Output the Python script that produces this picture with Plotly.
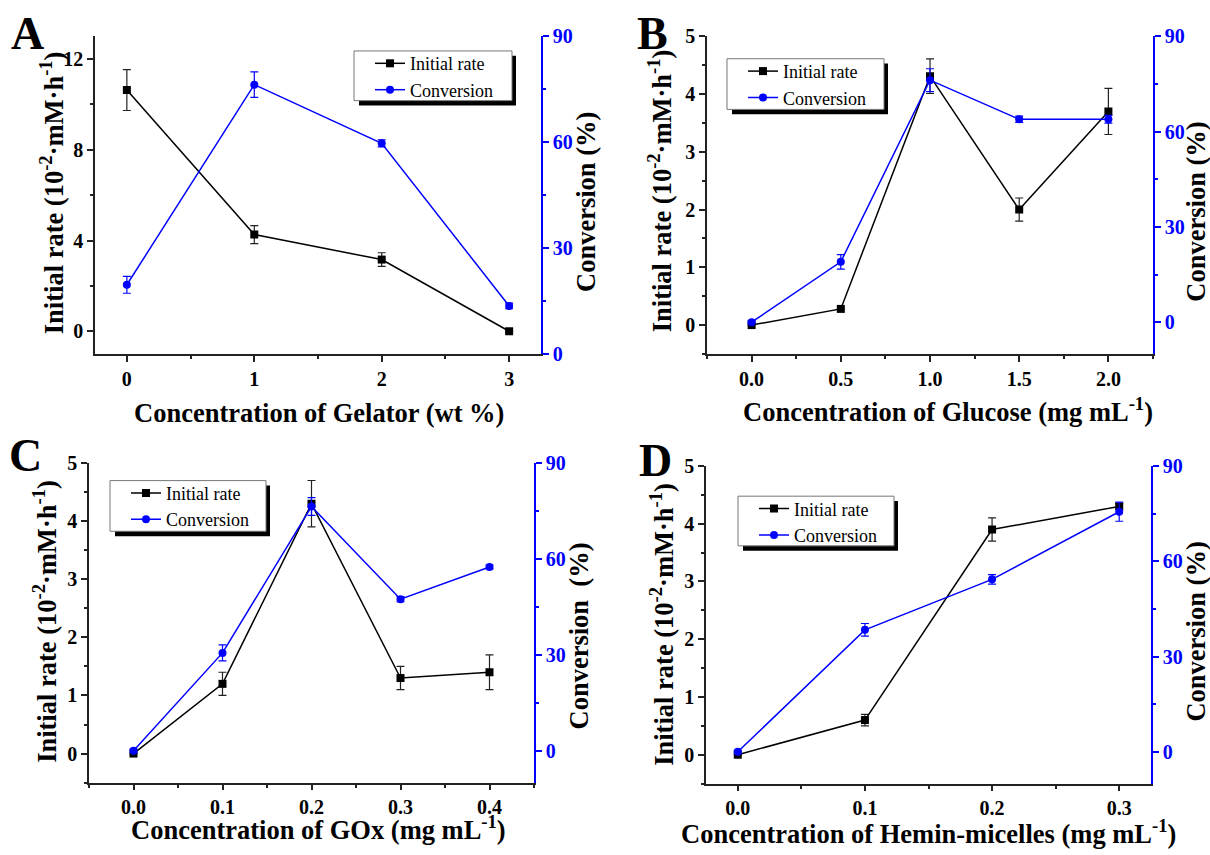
import plotly.graph_objects as go

# ---------------- data ----------------
gelator = [0, 1, 2, 3]
gel_rate = [10.63, 4.26, 3.16, 0.0]
gel_rate_err = [0.9, 0.4, 0.3, 0.0]
gel_conv = [19.6, 76.3, 59.7, 13.6]
gel_conv_err = [2.4, 3.6, 1.0, 0.8]

glucose = [0.0, 0.5, 1.0, 1.5, 2.0]
glu_rate = [0.0, 0.28, 4.31, 2.0, 3.7]
glu_rate_err = [0.0, 0.0, 0.3, 0.2, 0.4]
glu_conv = [0.0, 19.0, 76.2, 63.9, 63.9]
glu_conv_err = [0.5, 2.3, 3.6, 1.0, 1.2]

gox = [0.0, 0.1, 0.2, 0.3, 0.4]
gox_rate = [0.0, 1.2, 4.3, 1.3, 1.4]
gox_rate_err = [0.0, 0.2, 0.4, 0.2, 0.3]
gox_conv = [0.0, 30.6, 76.4, 47.4, 57.5]
gox_conv_err = [0.5, 2.5, 2.8, 0.8, 0.6]

hemin = [0.0, 0.1, 0.2, 0.3]
hem_rate = [0.0, 0.6, 3.9, 4.3]
hem_rate_err = [0.0, 0.1, 0.2, 0.05]
hem_conv = [0.0, 38.4, 54.3, 75.6]
hem_conv_err = [0.5, 2.0, 1.5, 3.0]

x_titles = ["Concentration of Gelator (wt %)",
            "Concentration of Glucose (mg mL<sup>-1</sup>)",
            "Concentration of GOx (mg mL<sup>-1</sup>)",
            "Concentration of Hemin-micelles (mg mL<sup>-1</sup>)"]
y_title = "Initial rate (10<sup>-2</sup>·mM·h<sup>-1</sup>)"
y2_titles = ["Conversion (%)", "Conversion (%)", "Conversion\u00a0\u00a0(%)", "Conversion (%)"]
panel_labels = ["A", "B", "C", "D"]

# ---------------- layout geometry (pixels) ----------------
W, H = 1210, 855
FONT = "Liberation Serif, Times New Roman, serif"
BLUE = "#0000FF"


def px(x):
    return x / W


def py(y):
    return 1 - y / H


panels = [
    dict(x=gelator, r=gel_rate, re=gel_rate_err, c=gel_conv, ce=gel_conv_err,
         box=(95, 541, 26, 352), xr=[-0.25, 3.25], xd=1, xm=0.5, yr=[-1, 13], yd=4, ym=2,
         y2r=[0, 90], fmt="", leg=(354, 41, 512, 92),
         lt=(52, 187), rt=(586, 196), bt=(319, 413), lab=(27, 23)),
    dict(x=glucose, r=glu_rate, re=glu_rate_err, c=glu_conv, ce=glu_conv_err,
         box=(707, 1153, 26, 352), xr=[-0.25, 2.25], xd=0.5, xm=0.25, yr=[-0.5, 5], yd=1, ym=0.5,
         y2r=[-10, 90], fmt=".1f", leg=(727, 49, 884, 101),
         lt=(660, 185), rt=(1196, 206), bt=(948, 410), lab=(652, 23)),
    dict(x=gox, r=gox_rate, re=gox_rate_err, c=gox_conv, ce=gox_conv_err,
         box=(89, 534, 464, 792), xr=[-0.05, 0.45], xd=0.1, xm=0.05, yr=[-0.5, 5], yd=1, ym=0.5,
         y2r=[-10, 90], fmt=".1f", leg=(110, 482, 266, 534),
         lt=(45, 627), rt=(579, 642), bt=(318, 839), lab=(25, 456)),
    dict(x=hemin, r=hem_rate, re=hem_rate_err, c=hem_conv, ce=hem_conv_err,
         box=(706, 1151, 467, 793), xr=[-0.025, 0.325], xd=0.1, xm=0.05, yr=[-0.5, 5], yd=1, ym=0.5,
         y2r=[-10, 90], fmt=".1f", leg=(738, 498, 894, 549),
         lt=(662, 630), rt=(1196, 637), bt=(928, 843), lab=(656, 461)),
]

fig = go.Figure()
layout = dict(
    width=W, height=H, margin=dict(l=0, r=0, t=0, b=0),
    paper_bgcolor="white", plot_bgcolor="white",
    font=dict(family=FONT, size=20, color="black"),
    annotations=[], shapes=[],
)

tickfont = dict(family=FONT, size=20, weight="bold", color="black")
titlefont = dict(family=FONT, size=26.5, weight="bold", color="black")

for k, p in enumerate(panels):
    i = k + 1
    xb, yl, yr_ = f"x{i}", f"y{i}", f"y{i + 4}"
    legname = "legend" if i == 1 else f"legend{i}"
    x0, x1, y0, y1 = p["box"]

    fig.add_trace(go.Scatter(
        x=p["x"], y=p["r"], name="Initial rate", mode="lines+markers",
        line=dict(color="black", width=1.5),
        marker=dict(symbol="square", size=8, color="black"),
        error_y=dict(type="data", array=p["re"], color="#222", thickness=1.2, width=4),
        xaxis=xb, yaxis=yl, legend=legname))
    fig.add_trace(go.Scatter(
        x=p["x"], y=p["c"], name="Conversion", mode="lines+markers",
        line=dict(color=BLUE, width=1.5),
        marker=dict(symbol="circle", size=8, color=BLUE),
        error_y=dict(type="data", array=p["ce"], color=BLUE, thickness=1.2, width=4),
        xaxis=xb, yaxis=yr_, legend=legname))

    dom_x = [px(x0), px(x1)]
    dom_y = [py(y1), py(y0)]
    layout[f"xaxis{i}"] = dict(
        domain=dom_x, anchor=yl, range=p["xr"], dtick=p["xd"], tick0=0,
        tickformat=p["fmt"], ticks="outside", ticklen=6, tickwidth=1.5, tickcolor="#222",
        showline=True, linecolor="#222", linewidth=1.5, showgrid=False, zeroline=False,
        tickfont=tickfont,
        minor=dict(dtick=p["xm"], tick0=0, ticks="outside", ticklen=3.5, tickwidth=1.5, tickcolor="#222"))
    layout[f"xaxis{i + 4}"] = dict(
        overlaying=xb, anchor=yl, side="top", range=p["xr"], dtick=p["xd"], tick0=0,
        ticks="inside", ticklen=6, tickwidth=1.5, tickcolor="#222",
        showline=True, linecolor="#222", linewidth=1.5, showgrid=False, zeroline=False,
        showticklabels=False,
        minor=dict(dtick=p["xm"], tick0=0, ticks="inside", ticklen=3.5, tickwidth=1.5, tickcolor="#222"))
    layout[f"yaxis{i}"] = dict(
        domain=dom_y, anchor=xb, range=p["yr"], dtick=p["yd"], tick0=0,
        ticks="outside", ticklen=6, tickwidth=1.5, tickcolor="#222",
        showline=True, linecolor="#222", linewidth=1.5, showgrid=False, zeroline=False,
        tickfont=tickfont,
        minor=dict(dtick=p["ym"], tick0=0, ticks="outside", ticklen=3.5, tickwidth=1.5, tickcolor="#222"))
    layout[f"yaxis{i + 4}"] = dict(
        overlaying=yl, anchor=xb, side="right", range=p["y2r"], dtick=30, tick0=0,
        ticks="outside", ticklen=6, tickwidth=1.5, tickcolor=BLUE,
        showline=True, linecolor=BLUE, linewidth=1.5, showgrid=False, zeroline=False,
        tickfont=dict(family=FONT, size=20, weight="bold", color=BLUE),
        minor=dict(dtick=15, tick0=0, ticks="outside", ticklen=3.5, tickwidth=1.5, tickcolor=BLUE))

    # legend: the box (with drop shadow) is drawn as shapes, items by plotly's legend
    lx0, ly0, lx1, ly1 = p["leg"]
    layout[legname] = dict(
        x=px(lx0 + 16), y=py(ly0 - 6), xanchor="left", yanchor="top",
        bgcolor="rgba(0,0,0,0)", borderwidth=0,
        font=dict(family=FONT, size=18, color="black"), tracegroupgap=0,
        itemwidth=30)
    layout["shapes"].append(dict(
        type="rect", xref="paper", yref="paper",
        x0=px(lx0 + 5), x1=px(lx1 + 4), y0=py(ly1 + 5), y1=py(ly0 + 5),
        fillcolor="black", line=dict(width=0), layer="above"))
    layout["shapes"].append(dict(
        type="rect", xref="paper", yref="paper",
        x0=px(lx0), x1=px(lx1), y0=py(ly1), y1=py(ly0),
        fillcolor="white", line=dict(width=1, color="#777"), layer="above"))

    ann = layout["annotations"]
    ann.append(dict(text=y_title, x=px(p["lt"][0]), y=py(p["lt"][1]), xref="paper", yref="paper",
                    textangle=-90, showarrow=False, font=titlefont, xanchor="center", yanchor="middle"))
    ann.append(dict(text=y2_titles[k], x=px(p["rt"][0]), y=py(p["rt"][1]), xref="paper", yref="paper",
                    textangle=-90, showarrow=False, font=titlefont, xanchor="center", yanchor="middle"))
    ann.append(dict(text=x_titles[k], x=px(p["bt"][0]), y=py(p["bt"][1]), xref="paper", yref="paper",
                    showarrow=False, font=titlefont, xanchor="center", yanchor="middle"))
    ann.append(dict(text=panel_labels[k], x=px(p["lab"][0]), y=py(p["lab"][1]), xref="paper", yref="paper",
                    showarrow=False, font=dict(family=FONT, size=46, weight="bold", color="black"),
                    xanchor="center", yanchor="middle"))

fig.update_layout(**layout)
fig.write_html("out.html")
